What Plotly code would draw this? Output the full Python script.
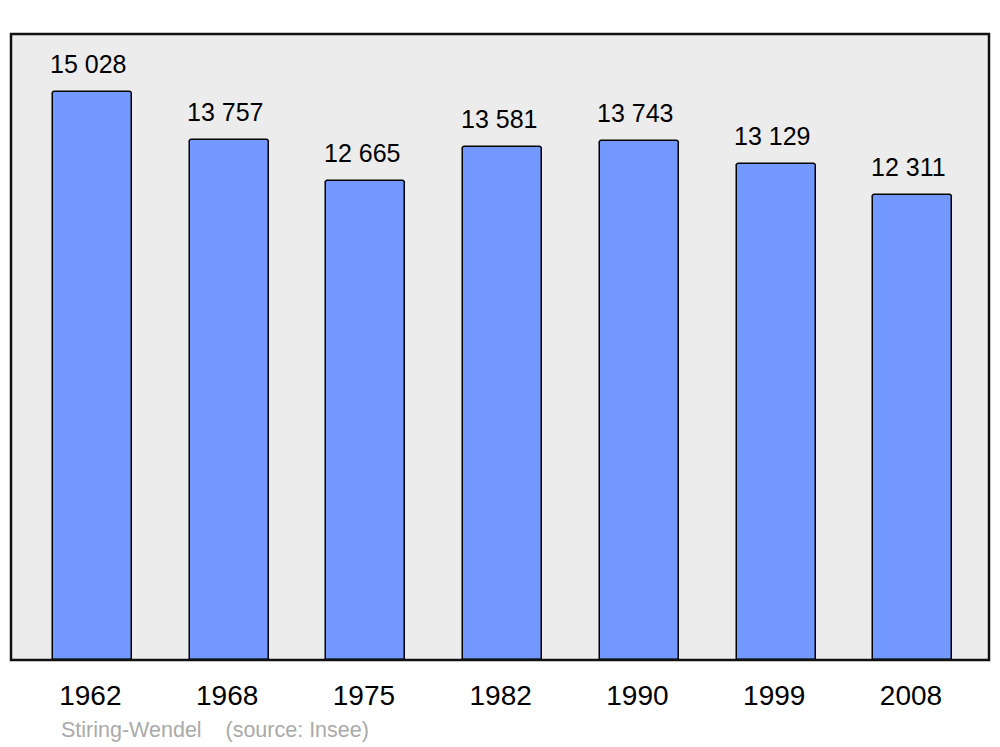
import plotly.graph_objects as go

years = ["1962", "1968", "1975", "1982", "1990", "1999", "2008"]
population = [15028, 13757, 12665, 13581, 13743, 13129, 12311]
value_labels = ["15 028", "13 757", "12 665", "13 581", "13 743", "13 129", "12 311"]
source_text = "Stiring-Wendel&nbsp;&nbsp;&nbsp;&nbsp;(source: Insee)"

pos = list(range(len(years)))

fig = go.Figure()
fig.add_trace(go.Bar(
    x=pos, y=population, width=0.578,
    marker=dict(color="#7399ff", line=dict(color="#000000", width=1.5), cornerradius=3),
    hoverinfo="skip",
))

for i, (v, lab) in enumerate(zip(population, value_labels)):
    fig.add_annotation(x=i, y=v, text=lab, showarrow=False, yanchor="bottom",
                       yshift=12, xshift=-4,
                       font=dict(family="Liberation Sans, Arial", size=25, color="#000"))

fig.add_annotation(xref="paper", yref="paper", x=0.049, y=-0.112, xanchor="left",
                   yanchor="middle", text=source_text, showarrow=False,
                   font=dict(family="Liberation Sans, Arial", size=21.5, color="#aaaaaa"))

fig.add_shape(type="rect", xref="paper", yref="paper", x0=0, x1=1, y0=0, y1=1,
              line=dict(color="#111111", width=2.5), layer="above")

fig.update_layout(
    width=992, height=739,
    margin=dict(l=3, r=11, t=26, b=87),
    paper_bgcolor="#ffffff", plot_bgcolor="#ececec",
    showlegend=False, bargap=0,
    font=dict(family="Liberation Sans, Arial", color="#000"),
    xaxis=dict(range=[-0.595, 6.556], tickvals=pos, ticktext=years, showgrid=False,
               zeroline=False, ticks="", tickfont=dict(size=28), ticklabelstandoff=16,
               ticklabelshift=-2, fixedrange=True),
    yaxis=dict(range=[0, 16563], showgrid=False, zeroline=False, showticklabels=False,
               ticks="", fixedrange=True),
)

fig.write_html("out.html")
